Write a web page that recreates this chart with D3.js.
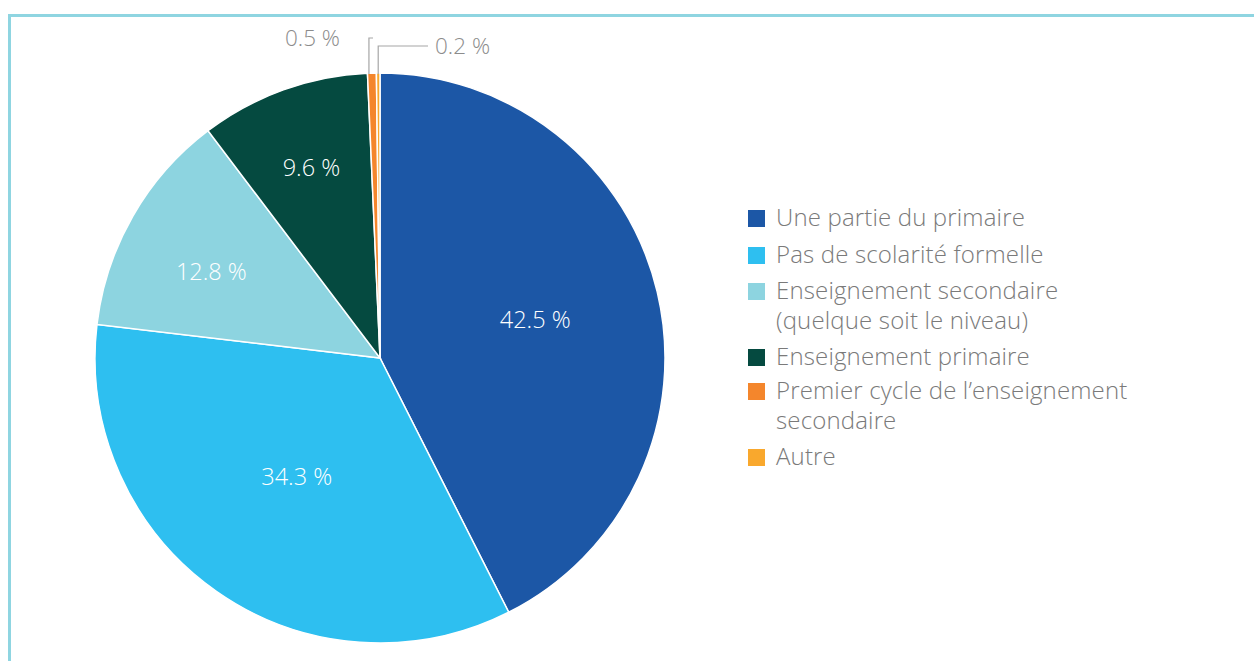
<!DOCTYPE html>
<html>
<head>
<meta charset="utf-8">
<script src="https://cdn.jsdelivr.net/npm/d3@7"></script>
<style>
  body { margin: 0; background: #fff; }
  svg { display: block; font-family: "Open Sans", sans-serif; }
</style>
</head>
<body>
<svg width="1254" height="661"></svg>
<script>
// Données du graphique.
const categories = [
    "Une partie du primaire",
    "Pas de scolarité formelle",
    "Enseignement secondaire (quelque soit le niveau)",
    "Enseignement primaire",
    "Premier cycle de l’enseignement secondaire",
    "Autre"
];
const values = [42.5, 34.3, 12.8, 9.6, 0.5, 0.2];
const valueLabels = ["42.5 %", "34.3 %", "12.8 %", "9.6 %", "0.5 %", "0.2 %"];
const legendLines = [
    ["Une partie du primaire"],
    ["Pas de scolarité formelle"],
    ["Enseignement secondaire", "(quelque soit le niveau)"],
    ["Enseignement primaire"],
    ["Premier cycle de l’enseignement", "secondaire"],
    ["Autre"]
];
const colors = ["#1c57a6", "#2ebff0", "#8dd4e0", "#054a40", "#f4862c", "#f9a82d"];

const svg = d3.select("svg");

// Cadre.
svg.append("path")
    .attr("d", "M9.5,661 V15.5 H1254")
    .attr("fill", "none")
    .attr("stroke", "#8fd5e1")
    .attr("stroke-width", 3);

const cx = 380, cy = 358, radius = 285;
const g = svg.append("g").attr("transform", `translate(${cx},${cy})`);

const pie = d3.pie().sort(null).value(d => d);
const arcs = pie(values);
const arc = d3.arc().innerRadius(0).outerRadius(radius);

g.selectAll("path.slice")
    .data(arcs)
    .enter()
    .append("path")
    .attr("class", "slice")
    .attr("d", arc)
    .attr("fill", (d, i) => colors[i])
    .attr("stroke", "#fff")
    .attr("stroke-width", 1.5);

// Étiquettes à l'intérieur (rayon relatif par part + petit décalage).
const labelRadius = [0.56, 0.51, 0.67, 0.71];
const labelNudge = [[0, -1], [0, 0], [-3, 9], [0, 0]];
g.selectAll("text.inner")
    .data(arcs.slice(0, 4))
    .enter()
    .append("text")
    .attr("class", "inner")
    .attr("transform", (d, i) => {
        const r = radius * labelRadius[i];
        const a = (d.startAngle + d.endAngle) / 2;
        return `translate(${r * Math.sin(a) + labelNudge[i][0]},${-r * Math.cos(a) + labelNudge[i][1]})`;
    })
    .attr("text-anchor", "middle")
    .attr("dy", "0.35em")
    .attr("fill", "#fff")
    .attr("font-size", 23.5)
    .attr("font-weight", 300)
    .text((d, i) => valueLabels[i]);

// Étiquettes externes avec lignes de rappel.
const outer = [
    { i: 4, tx: -40, ty: -320, anchor: "end", lx: -7 },
    { i: 5, tx: 55, ty: -312, anchor: "start", lx: 48 }
];
outer.forEach(o => {
    const d = arcs[o.i];
    const a = (d.startAngle + d.endAngle) / 2;
    const px = radius * Math.sin(a) + (o.i === 4 ? -3 : 0);
    const py = -radius * Math.cos(a) + 1;
    g.append("polyline")
        .attr("points", `${px},${py} ${px},${o.ty} ${o.lx},${o.ty}`)
        .attr("fill", "none")
        .attr("stroke", "#a6a6a6")
        .attr("stroke-width", 1.2);
    g.append("text")
        .attr("x", o.tx)
        .attr("y", o.ty)
        .attr("dy", "0.35em")
        .attr("text-anchor", o.anchor)
        .attr("fill", "#8c8c8c")
        .attr("font-size", 22.5)
        .attr("font-weight", 300)
        .text(valueLabels[o.i]);
});

// Légende.
const legendRowY = [218, 255, 291, 357, 391, 457];
const legend = svg.append("g").attr("transform", "translate(748,0)");
const items = legend.selectAll("g")
    .data(categories)
    .enter()
    .append("g")
    .attr("transform", (d, i) => `translate(0,${legendRowY[i]})`);

items.append("rect")
    .attr("x", 0)
    .attr("y", -8)
    .attr("width", 17)
    .attr("height", 17)
    .attr("fill", (d, i) => colors[i]);

items.append("text")
    .attr("x", 28)
    .attr("fill", "#7a7a7a")
    .attr("font-size", 24)
    .attr("font-weight", 300)
    .attr("letter-spacing", 0.15)
    .selectAll("tspan")
    .data((d, i) => legendLines[i])
    .enter()
    .append("tspan")
    .attr("x", 28)
    .attr("y", (d, j) => j * 30)
    .attr("dy", "0.35em")
    .text(d => d);
</script>
</body>
</html>
